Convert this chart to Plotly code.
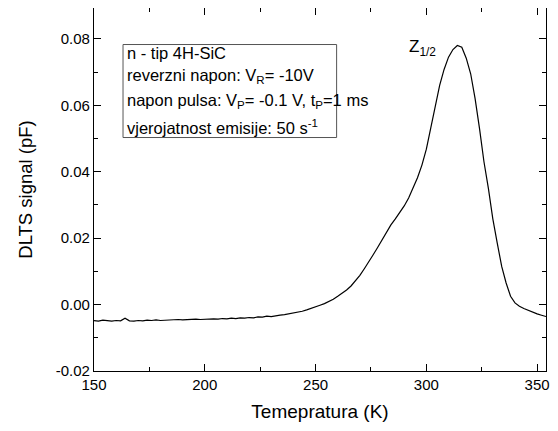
import plotly.graph_objects as go

temperature_K = list(range(150, 356, 2))
dlts_pF = [
    -0.0048, -0.0050, -0.0047, -0.0049, -0.0050, -0.0048, -0.0049, -0.0041, -0.0049, -0.0050,
    -0.0048, -0.0049, -0.0047, -0.0048, -0.0046, -0.0048, -0.0047, -0.0046, -0.0047, -0.0045,
    -0.0046, -0.0045, -0.0046, -0.0044, -0.0045, -0.0044, -0.0045, -0.0043, -0.0044, -0.0042,
    -0.0043, -0.0041, -0.0042, -0.0040, -0.0041, -0.0039, -0.0040, -0.0037, -0.0038, -0.0035,
    -0.0036, -0.0033, -0.0032, -0.0030, -0.0028, -0.0026, -0.0023, -0.0020, -0.0016, -0.0012,
    -0.0007, -0.0002, 0.0003, 0.0009, 0.0016, 0.0025, 0.0034, 0.0044, 0.0056, 0.0071,
    0.0088, 0.0108, 0.0128, 0.0150, 0.0172, 0.0196, 0.0220, 0.0240, 0.0258, 0.0276,
    0.0297, 0.0321, 0.0349, 0.0382, 0.0420, 0.0468, 0.0532, 0.0600, 0.0660, 0.0708,
    0.0745, 0.0768, 0.0780, 0.0775, 0.0742, 0.0695, 0.0620, 0.0530, 0.0430, 0.0350,
    0.0258, 0.0185, 0.0115, 0.0065, 0.0025, 0.0005, -0.0005, -0.0012, -0.0018, -0.0024,
    -0.0028, -0.0032, -0.0036,
]
temperature_K = temperature_K[:len(dlts_pF)]

x_ticks = [150, 200, 250, 300, 350]
y_ticks = [-0.02, 0.00, 0.02, 0.04, 0.06, 0.08]
y_tick_labels = ["-0.02", "0.00", "0.02", "0.04", "0.06", "0.08"]

info_lines = [
    "n - tip 4H-SiC",
    "reverzni napon: V<sub>R</sub>= -10V",
    "napon pulsa: V<sub>P</sub>= -0.1 V, t<sub>P</sub>=1 ms",
    "vjerojatnost emisije: 50 s<sup>-1</sup>",
]
info_line_y = [0.0757, 0.0689, 0.0612, 0.0534]
peak_label = "Z<sub>1/2</sub>"

fig = go.Figure()
fig.add_trace(go.Scatter(
    x=temperature_K, y=dlts_pF, mode="lines",
    line=dict(color="black", width=1.2), showlegend=False,
))

font_family = "Liberation Sans, Arial, sans-serif"

fig.add_shape(type="rect", xref="x", yref="y", x0=163.1, x1=259.5, y0=0.0503, y1=0.0783,
              line=dict(color="#555555", width=1), fillcolor="white", layer="above")

for txt, yy in zip(info_lines, info_line_y):
    fig.add_annotation(x=163.9, y=yy, xref="x", yref="y", text=txt, showarrow=False,
                       xanchor="left", yanchor="middle",
                       font=dict(family=font_family, size=16.5, color="black"))

fig.add_annotation(x=291.4, y=0.0774, xref="x", yref="y", text=peak_label, showarrow=False,
                   xanchor="left", yanchor="middle",
                   font=dict(family=font_family, size=17, color="black"))

axis_common = dict(
    showline=True, linecolor="black", linewidth=1.3, mirror="allticks",
    ticks="inside", ticklen=7, tickwidth=1.2, tickcolor="black",
    showgrid=False, zeroline=False, automargin=False,
    tickfont=dict(family=font_family, size=15, color="black"),
)

fig.update_xaxes(
    range=[150, 354], tickvals=x_ticks,
    minor=dict(dtick=25, ticks="inside", ticklen=4, tickwidth=1.2, tickcolor="black", tick0=150),
    title=dict(text="Temepratura (K)", font=dict(family=font_family, size=19, color="black"), standoff=12),
    **axis_common,
)
fig.update_yaxes(
    range=[-0.02, 0.0893], tickvals=y_ticks, ticktext=y_tick_labels,
    minor=dict(dtick=0.01, ticks="inside", ticklen=4, tickwidth=1.2, tickcolor="black", tick0=0),
    title=dict(text="DLTS signal (pF)", font=dict(family=font_family, size=18.5, color="black"), standoff=18),
    **axis_common,
)

# page body has an 8px default margin, so the figure is sized to fit the 558x431 window
fig.update_layout(
    width=550, height=423,
    margin=dict(l=86, r=12, t=0, b=60),
    paper_bgcolor="white", plot_bgcolor="white",
)

fig.write_html("out.html")
